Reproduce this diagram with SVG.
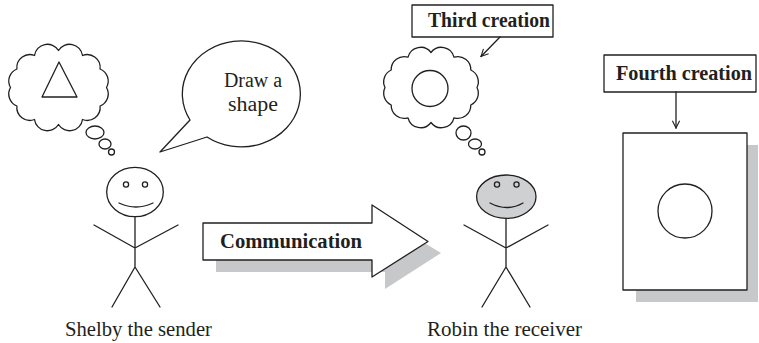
<svg xmlns="http://www.w3.org/2000/svg" width="759" height="343" viewBox="0 0 759 343">
  <style>
    .ln { fill: none; stroke: #231f20; stroke-width: 1.3; stroke-linecap: round; stroke-linejoin: round; }
    .wf { fill: #ffffff; stroke: #231f20; stroke-width: 1.3; stroke-linejoin: round; }
    .shadow { fill: #c7c8ca; stroke: none; }
    .txt { font-family: "Liberation Serif", "Times New Roman", serif; fill: #231f20; font-size: 20px; }
    .bold { font-weight: bold; }
  </style>
  <defs>
    <marker id="chev" viewBox="0 0 10 10" refX="9" refY="5" markerWidth="9" markerHeight="9" orient="auto" markerUnits="userSpaceOnUse">
      <path d="M1,1 L9,5 L1,9" fill="none" stroke="#231f20" stroke-width="1.2"/>
    </marker>
  </defs>
  <rect width="759" height="343" fill="#ffffff"/>

  <!-- Sender's thought: a triangle -->
  <g id="sender-thought">
    <path class="wf" d="M106.5,87.5 A13,13 0 0 1 100.1,106 A13,13 0 0 1 82.5,119.5 A13,13 0 0 1 58.5,124.5 A13,13 0 0 1 34.5,119.5 A13,13 0 0 1 16.9,106 A13,13 0 0 1 10.5,87.5 A13,13 0 0 1 16.9,69 A13,13 0 0 1 34.5,55.5 A13,13 0 0 1 58.5,50.5 A13,13 0 0 1 82.5,55.5 A13,13 0 0 1 100.1,69 A13,13 0 0 1 106.5,87.5 Z"/>
    <polygon class="ln" points="59,62 42,97 77,97"/>
    <ellipse class="ln" cx="95" cy="132.5" rx="9" ry="6.5"/>
    <ellipse class="ln" cx="105" cy="144" rx="6" ry="5"/>
    <circle class="ln" cx="111.5" cy="152" r="3"/>
  </g>

  <!-- Speech bubble -->
  <g id="speech">
    <path class="wf" d="M190,120 A59,53 0 1 1 207,137 L160,152 Z"/>
    <text class="txt" x="253" y="87" text-anchor="middle" textLength="58" lengthAdjust="spacingAndGlyphs">Draw a</text>
    <text class="txt" x="253" y="111" text-anchor="middle" textLength="50" lengthAdjust="spacingAndGlyphs">shape</text>
  </g>

  <!-- Shelby -->
  <g id="shelby">
    <ellipse class="ln" cx="135" cy="192" rx="28.3" ry="24.7"/>
    <circle class="ln" cx="126" cy="184.5" r="2.6"/>
    <circle class="ln" cx="145" cy="184.5" r="2.6"/>
    <path class="ln" d="M119,203 Q136,211 153,203"/>
    <path class="ln" d="M135,216.7 L135,267 M94,225 L135,248 L178,225 M112,307 L135,267 L160,307"/>
    <text class="txt" x="138.5" y="336" text-anchor="middle" textLength="147" lengthAdjust="spacingAndGlyphs">Shelby the sender</text>
  </g>

  <!-- Communication arrow -->
  <g id="communication">
    <polygon class="shadow" points="216,236 385,236 385,219 441,253 385,289 385,272 216,272"/>
    <polygon class="wf" points="203,223 372,223 372,205 428,241.5 372,277 372,260 203,260"/>
    <text class="txt bold" x="291" y="248" text-anchor="middle" textLength="142" lengthAdjust="spacingAndGlyphs">Communication</text>
  </g>

  <!-- Receiver's thought: a circle -->
  <g id="receiver-thought">
    <path class="wf" d="M477,87.5 A13,13 0 0 1 470.8,105 A13,13 0 0 1 454,117.8 A13,13 0 0 1 431,122.5 A13,13 0 0 1 408,117.8 A13,13 0 0 1 391.2,105 A13,13 0 0 1 385,87.5 A13,13 0 0 1 391.2,70 A13,13 0 0 1 408,57.2 A13,13 0 0 1 431,52.5 A13,13 0 0 1 454,57.2 A13,13 0 0 1 470.8,70 A13,13 0 0 1 477,87.5 Z"/>
    <circle class="ln" cx="430" cy="88.5" r="18"/>
    <ellipse class="ln" cx="463.5" cy="133" rx="7.5" ry="7"/>
    <ellipse class="ln" cx="475" cy="144" rx="6.5" ry="5"/>
    <circle class="ln" cx="482" cy="152" r="3"/>
  </g>

  <!-- Third creation label -->
  <g id="third-creation">
    <rect class="wf" x="412" y="5" width="141" height="32"/>
    <text class="txt bold" x="489" y="27" text-anchor="middle" textLength="122" lengthAdjust="spacingAndGlyphs">Third creation</text>
  </g>

  <!-- Robin -->
  <g id="robin">
    <ellipse cx="506.3" cy="196.7" rx="29.7" ry="21.7" fill="#cfd0d2" stroke="#231f20" stroke-width="1.3"/>
    <circle class="ln" cx="497" cy="184.5" r="2.6"/>
    <circle class="ln" cx="516.5" cy="184.5" r="2.6"/>
    <path class="ln" d="M490,203 Q507,212 523,203"/>
    <path class="ln" d="M506,218.4 L506,267 M464,225 L506,248 L548,225 M482,307 L506,267 L530,307"/>
    <text class="txt" x="504.5" y="336" text-anchor="middle" textLength="155" lengthAdjust="spacingAndGlyphs">Robin the receiver</text>
  </g>

  <!-- Fourth creation label -->
  <g id="fourth-creation">
    <rect class="wf" x="604" y="55" width="152" height="37"/>
    <text class="txt bold" x="684" y="80" text-anchor="middle" textLength="136" lengthAdjust="spacingAndGlyphs">Fourth creation</text>
  </g>

  <!-- The drawn page -->
  <g id="page">
    <rect class="shadow" x="636" y="145" width="122" height="157"/>
    <rect class="wf" x="623" y="133" width="124" height="157"/>
    <circle class="ln" cx="685" cy="211" r="27"/>
  </g>

  <!-- Connectors -->
  <g id="connectors">
    <line class="ln" x1="500" y1="37" x2="481" y2="56.5" marker-end="url(#chev)"/>
    <line class="ln" x1="676" y1="92" x2="676" y2="128" marker-end="url(#chev)"/>
  </g>
</svg>
